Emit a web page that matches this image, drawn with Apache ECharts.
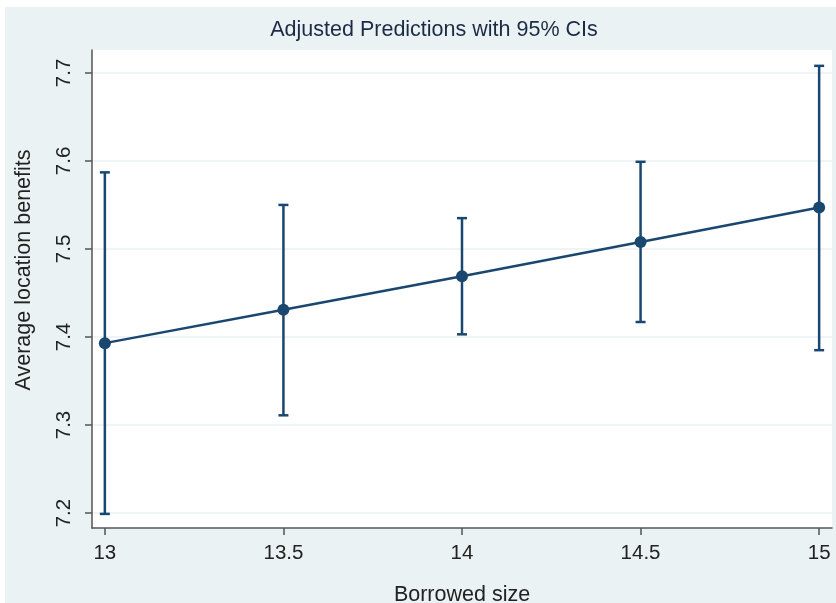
<!DOCTYPE html>
<html>
<head>
<meta charset="utf-8">
<script src="https://cdn.jsdelivr.net/npm/echarts@6/dist/echarts.min.js"></script>
<style>
  html, body { margin: 0; padding: 0; background: #ffffff; }
  #chart { width: 836px; height: 603px; }
</style>
</head>
<body>
<div id="chart"></div>
<script>
// borrowed size (x) and predicted margins with 95% CI
var sizes = [13, 13.5, 14, 14.5, 15];
var predicted = [7.393, 7.431, 7.469, 7.508, 7.547];
var ciLow = [7.199, 7.311, 7.403, 7.417, 7.385];
var ciHigh = [7.587, 7.550, 7.535, 7.599, 7.708];
var xTicks = [13, 13.5, 14, 14.5, 15];
var yTicks = [7.2, 7.3, 7.4, 7.5, 7.6, 7.7];

var navy = '#1a476f';
var lineData = [], barData = [];
for (var i = 0; i < sizes.length; i++) {
    lineData.push([sizes[i], predicted[i]]);
    barData.push([sizes[i], ciLow[i], ciHigh[i]]);
}

var myChart = echarts.init(document.getElementById('chart'), null, {renderer: 'canvas'});

var option = {
    backgroundColor: '#ffffff',
    animation: false,
    textStyle: {fontFamily: 'Liberation Sans, Arial, sans-serif'},
    graphic: [
        {type: 'rect', z: -10, silent: true,
         shape: {x: 5, y: 7, width: 831, height: 596},
         style: {fill: '#eaf2f3'}},
        {type: 'rect', z: -9, silent: true,
         shape: {x: 92, y: 50, width: 740, height: 478},
         style: {fill: '#ffffff'}},
        {type: 'text', z: 10, x: 434, y: 19,
         style: {text: 'Adjusted Predictions with 95% CIs', fontSize: 21.5,
                 fill: '#1c2b45', align: 'center', verticalAlign: 'top',
                 fontFamily: 'Liberation Sans, Arial, sans-serif'}},
        {type: 'text', z: 10, x: 13, y: 270, rotation: Math.PI / 2,
         style: {text: 'Average location benefits', fontSize: 21.5, fill: '#222',
                 align: 'center', verticalAlign: 'top',
                 fontFamily: 'Liberation Sans, Arial, sans-serif'}}
    ],
    grid: {left: 92, right: 4, top: 50, bottom: 75, containLabel: false, outerBoundsMode: 'none'},
    xAxis: {
        type: 'value',
        min: 12.964,
        max: 15.036,
        name: 'Borrowed size',
        nameLocation: 'middle',
        nameGap: 56,
        nameTextStyle: {fontSize: 21.5, color: '#222'},
        axisLine: {show: true, onZero: false, lineStyle: {color: '#555', width: 1.5}},
        axisTick: {show: true, length: 7, customValues: xTicks, lineStyle: {color: '#555', width: 1.5}},
        axisLabel: {customValues: xTicks, fontSize: 20.5, color: '#222', margin: 15},
        splitLine: {show: false}
    },
    yAxis: {
        type: 'value',
        min: 7.183,
        max: 7.726,
        axisLine: {show: true, onZero: false, lineStyle: {color: '#555', width: 1.5}},
        axisTick: {show: true, length: 7, customValues: yTicks, lineStyle: {color: '#555', width: 1.5}},
        axisLabel: {customValues: yTicks, fontSize: 20.5, color: '#222', rotate: 90, margin: 17,
                    formatter: function (v) { return v.toFixed(1); }},
        splitLine: {show: true, lineStyle: {color: '#eaf2f3', width: 1.5}}
    },
    series: [
        {
            name: 'CI',
            type: 'custom',
            z: 2,
            renderItem: function (params, api) {
                var x = api.value(0);
                var lo = api.coord([x, api.value(1)]);
                var hi = api.coord([x, api.value(2)]);
                var cap = 5;
                var st = {stroke: navy, lineWidth: 2.5};
                return {
                    type: 'group',
                    children: [
                        {type: 'line', shape: {x1: lo[0], y1: lo[1], x2: hi[0], y2: hi[1]}, style: st},
                        {type: 'line', shape: {x1: lo[0] - cap, y1: lo[1], x2: lo[0] + cap, y2: lo[1]}, style: st},
                        {type: 'line', shape: {x1: hi[0] - cap, y1: hi[1], x2: hi[0] + cap, y2: hi[1]}, style: st}
                    ]
                };
            },
            encode: {x: 0, y: [1, 2]},
            data: barData
        },
        {
            name: 'Predicted',
            type: 'line',
            z: 3,
            data: lineData,
            symbol: 'circle',
            symbolSize: 12,
            itemStyle: {color: navy},
            lineStyle: {color: navy, width: 2.5}
        }
    ]
};

myChart.setOption(option);
</script>
</body>
</html>
